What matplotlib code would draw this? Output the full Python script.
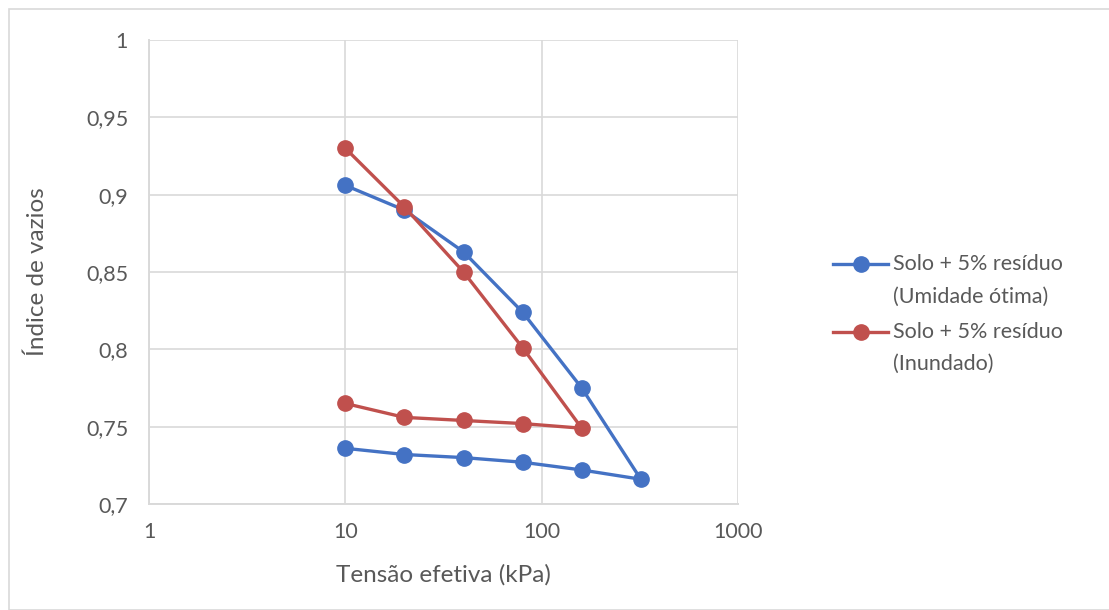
import matplotlib
matplotlib.use("Agg")
import matplotlib.pyplot as plt
import numpy as np
from matplotlib.legend_handler import HandlerLine2D
from matplotlib.patches import Rectangle
from matplotlib.ticker import FixedLocator, FuncFormatter

plt.rcParams["font.family"] = ["Lato", "DejaVu Sans"]

# loading then unloading path, kPa
tensao_otima = [10, 20, 40, 80, 160, 320, 160, 80, 40, 20, 10]
indice_otima = [0.906, 0.890, 0.863, 0.824, 0.775, 0.716, 0.722, 0.727, 0.730, 0.732, 0.736]
tensao_inund = [10, 20, 40, 80, 160, 80, 40, 20, 10]
indice_inund = [0.930, 0.892, 0.850, 0.801, 0.749, 0.752, 0.754, 0.756, 0.765]

labels = ["Solo + 5% resíduo\n(Umidade ótima)", "Solo + 5% resíduo\n(Inundado)"]
x_ticks = [1, 10, 100, 1000]
y_ticks = [0.7, 0.75, 0.8, 0.85, 0.9, 0.95, 1.0]

TXT = "#595959"
GRID = "#d9d9d9"


class FirstLineHandler(HandlerLine2D):
    """Legend key aligned with the first line of a two-line label."""
    shift = 12.0  # points

    def create_artists(self, *args, **kw):
        arts = super().create_artists(*args, **kw)
        for a in arts:
            a.set_ydata(np.asarray(a.get_ydata()) + self.shift)
        return arts


fig = plt.figure(figsize=(11.09, 6.10), dpi=100)
fig.patches.append(Rectangle((9 / 1109, 0), 1, 1 - 9 / 610, transform=fig.transFigure,
                             fill=False, edgecolor=GRID, lw=1.2))
ax = fig.add_axes([149 / 1109, 1 - 504 / 610, (738 - 149) / 1109, (504 - 40) / 610])

l1, = ax.plot(tensao_otima, indice_otima, color="#4472C4", lw=2.4, marker="o", ms=11,
              label=labels[0], zorder=3)
l2, = ax.plot(tensao_inund, indice_inund, color="#C0504D", lw=2.4, marker="o", ms=11,
              label=labels[1], zorder=3)

ax.set_xscale("log")
ax.set_xlim(1, 1000)
ax.set_ylim(0.7, 1.0)
ax.xaxis.set_major_locator(FixedLocator(x_ticks))
ax.xaxis.set_minor_locator(FixedLocator([]))
ax.xaxis.set_major_formatter(FuncFormatter(lambda v, p: f"{v:g}"))
ax.yaxis.set_major_locator(FixedLocator(y_ticks))
ax.yaxis.set_major_formatter(FuncFormatter(lambda v, p: f"{v:g}".replace(".", ",")))

ax.grid(True, color=GRID, lw=1.2)
ax.set_axisbelow(True)
for s in ["top", "right"]:
    ax.spines[s].set_visible(False)
for s in ["left", "bottom"]:
    ax.spines[s].set_color(GRID)
    ax.spines[s].set_linewidth(1.4)
ax.tick_params(length=0, labelsize=15.5, colors=TXT, pad=13)
ax.tick_params(axis="y", pad=15)

ax.set_xlabel("Tensão efetiva (kPa)", fontsize=17.5, color=TXT, labelpad=16)
ax.set_ylabel("Índice de vazios", fontsize=17.5, color=TXT, labelpad=27)

hm = {l1: FirstLineHandler(), l2: FirstLineHandler()}
leg = fig.legend(handles=[l1, l2], handler_map=hm, loc="center left",
                 bbox_to_anchor=(814 / 1109, 1 - 314 / 610),
                 frameon=False, fontsize=15.5, handlelength=2.55, handletextpad=0.2,
                 labelspacing=0.7, labelcolor=TXT)
for t in leg.get_texts():
    t.set_linespacing(1.78)

fig.savefig("out.png", dpi=100)
